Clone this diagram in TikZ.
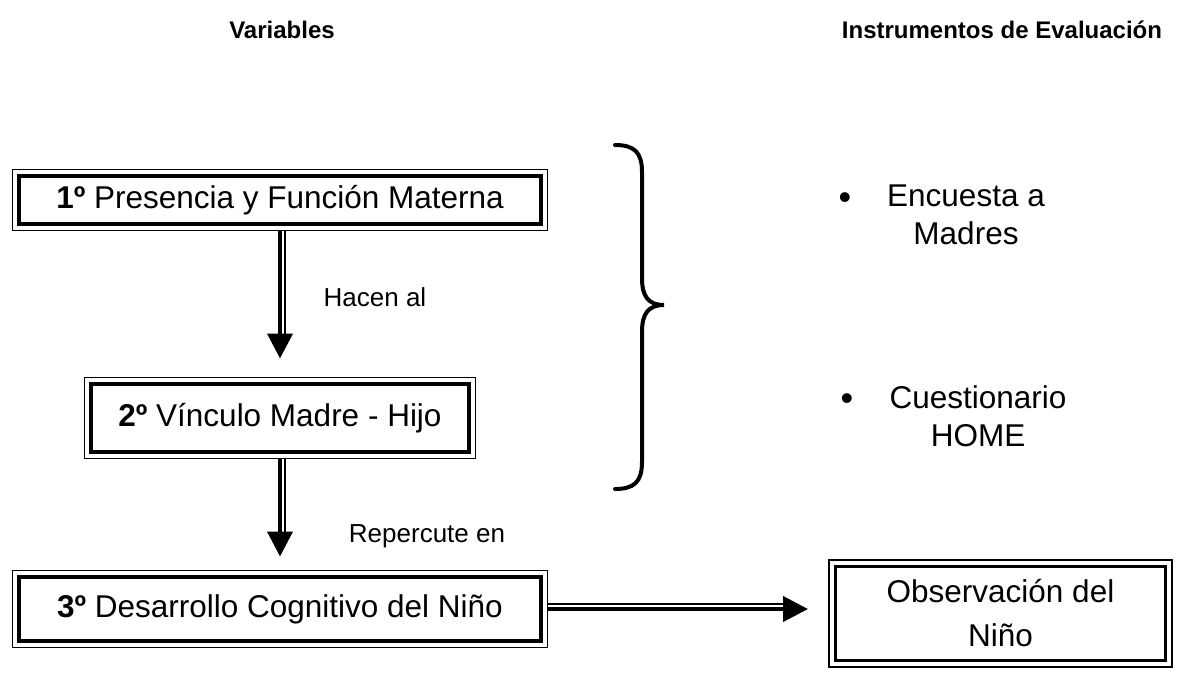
\documentclass[tikz,border=0pt]{standalone}
\usepackage{fontspec}
\setmainfont{Liberation Sans}
\usepackage{tikz}
\usetikzlibrary{arrows.meta, positioning}

\begin{document}
\begin{tikzpicture}[x=1pt, y=-1pt, node distance=19pt]
        % Define block styles
        \tikzstyle{box} = [rectangle, draw, line width=3.5pt, outer sep=6.5pt, minimum width=522pt, minimum height=48pt, inner sep=0pt, align=center, font=\fontsize{31.5}{44}\selectfont]
        \tikzstyle{rim} = [draw, line width=1.3pt]
        \tikzstyle{flow} = [draw, line width=4pt, -{Triangle[length=25pt, width=25pt]}]
        \tikzstyle{twin} = [draw, line width=1.3pt]
        \tikzstyle{note} = [font=\fontsize{26}{31}\selectfont]
        \tikzstyle{heading} = [font=\bfseries\fontsize{24}{29}\selectfont]
        \tikzstyle{entry} = [align=center, inner sep=0pt, font=\fontsize{31.5}{38}\selectfont]

        \useasboundingbox (0,0) rectangle (1180,673);

        % Headings
        \node [heading] (vars) at (282,30) {Variables};
        \node [heading] (instr) at (1002,30) {Instrumentos de Evaluación};

        % Nodes
        \node [box] (pres) at (280,200) {\textbf{1º} Presencia y Función Materna};
        \node [box, below=147pt of pres, minimum width=378pt, minimum height=68pt] (vinc) {\textbf{2º} Vínculo Madre - Hijo};
        \node [box, below=112pt of vinc, minimum height=64pt] (desa) {\textbf{3º} Desarrollo Cognitivo del Niño};
        \node [box, minimum width=330pt, minimum height=94pt] at (1000.5,613.5) (obse) {Observación del\\Niño};

        % Outer frames
        \foreach \n in {pres, vinc, desa, obse}
            \draw [rim] (\n.south west) rectangle (\n.north east);

        % Instruments
        \node [entry] (encu) at (966,215) {Encuesta a\\Madres};
        \node [entry] (cues) at (978,416) {Cuestionario\\HOME};
        \node [entry, anchor=base, font=\fontsize{36}{38}\selectfont] (dot1) at (845,209) {\textbullet};
        \node [entry, anchor=base, font=\fontsize{36}{38}\selectfont] (dot2) at (847,410) {\textbullet};

        % Brace
        \draw [line width=4pt, line cap=round] (615,145) .. controls (634,145) and (642,152) .. (642,172) -- (642,278)
            .. controls (642,296) and (648,305) .. (664,305) .. controls (648,305) and (642,314) .. (642,332) -- (642,462)
            .. controls (642,482) and (634,489) .. (615,489);

        % Labels
        \node [note] (hacen) at (375,297) {Hacen al};
        \node [note] (reper) at (427,536) {Repercute en};

        % Paths
        \path [flow, shorten >=19pt] (pres) -- (vinc);
        \path [twin, shorten >=44pt, transform canvas={xshift=5pt}] (pres) -- (vinc);
        \path [flow, shorten >=14pt] (vinc) -- (desa);
        \path [twin, shorten >=39pt, transform canvas={xshift=5pt}] (vinc) -- (desa);
        \path [flow, shorten >=21pt] (desa.east) -- (desa.east -| obse.west);
        \path [twin, shorten >=45pt, transform canvas={yshift=5pt}] (desa.east) -- (desa.east -| obse.west);

    \end{tikzpicture}
\end{document}
